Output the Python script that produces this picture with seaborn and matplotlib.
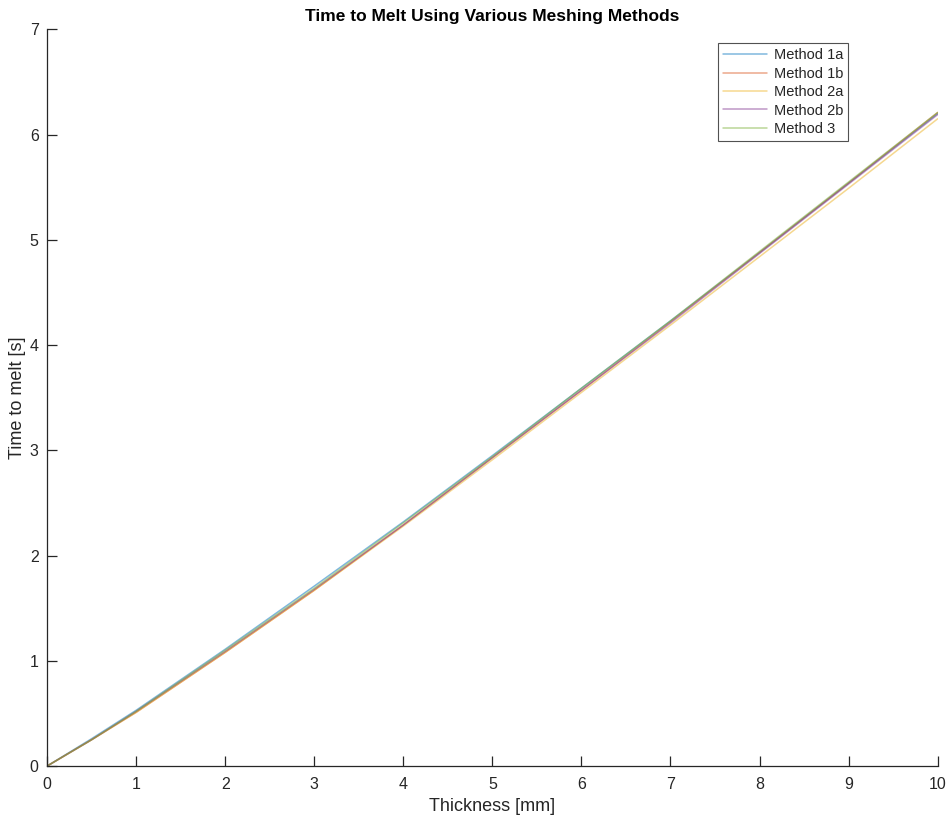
import matplotlib
matplotlib.use("Agg")
import matplotlib.pyplot as plt
import seaborn as sns
import pandas as pd

thickness = [0, 0.5, 1, 2, 3, 4, 5, 6, 7, 8, 9, 10]
method_1a = [0, 0.26, 0.53, 1.11, 1.71, 2.32, 2.95, 3.59, 4.23, 4.88, 5.54, 6.20]
method_1b = [0, 0.25, 0.51, 1.08, 1.67, 2.29, 2.93, 3.57, 4.22, 4.88, 5.54, 6.21]
method_2a = [0, 0.25, 0.51, 1.08, 1.67, 2.28, 2.91, 3.55, 4.19, 4.84, 5.49, 6.15]
method_2b = [0, 0.25, 0.52, 1.09, 1.68, 2.29, 2.93, 3.57, 4.21, 4.87, 5.53, 6.19]
method_3 = [0, 0.25, 0.52, 1.10, 1.69, 2.31, 2.94, 3.59, 4.23, 4.89, 5.55, 6.21]

names = ["Method 1a", "Method 1b", "Method 2a", "Method 2b", "Method 3"]
series = [method_1a, method_1b, method_2a, method_2b, method_3]
colors = ["#0072BD", "#D95319", "#EDB120", "#7E2F8E", "#77AC30"]

rows = []
for n, s in zip(names, series):
    for x, y in zip(thickness, s):
        rows.append({"Thickness": x, "Time": y, "Method": n})
df = pd.DataFrame(rows)

sns.set_style("white")
plt.rcParams["font.family"] = ["Liberation Sans", "DejaVu Sans"]

fig = plt.figure(figsize=(9.5, 8.15), dpi=100)
ax = fig.add_axes([0.0495, 0.060, 0.9375, 0.904])

sns.lineplot(data=df, x="Thickness", y="Time", hue="Method", hue_order=names,
             palette=dict(zip(names, colors)), linewidth=1.1, alpha=0.5, ax=ax)

ax.set_xlim(0, 10)
ax.set_ylim(0, 7)
ax.set_xticks(range(0, 11))
ax.set_yticks(range(0, 8))
for sp in ["top", "right"]:
    ax.spines[sp].set_visible(False)
for sp in ["left", "bottom"]:
    ax.spines[sp].set_color("#262626")
    ax.spines[sp].set_linewidth(0.9)
ax.tick_params(bottom=True, left=True, top=False, right=False)
ax.tick_params(direction="in", length=7, width=0.9, colors="#262626",
               labelsize=11.5, labelcolor="#262626")
ax.tick_params(axis="x", pad=8)
ax.tick_params(axis="y", pad=6)
ax.set_xlabel("Thickness [mm]", fontsize=13, color="#262626", labelpad=4)
ax.set_ylabel("Time to melt [s]", fontsize=13, color="#262626", labelpad=3)
ax.set_title("Time to Melt Using Various Meshing Methods", fontsize=12.5,
             fontweight="bold", color="black", pad=6)

leg = ax.legend(loc="upper left", bbox_to_anchor=(0.753, 0.981), frameon=True,
                fontsize=10.5, handlelength=3.0, borderpad=0.35, labelspacing=0.3,
                handletextpad=0.5, borderaxespad=0, fancybox=False, title=None)
leg.get_frame().set_edgecolor("#262626")
leg.get_frame().set_linewidth(0.8)
for h in leg.get_lines():
    h.set_alpha(0.5)
    h.set_linewidth(1.1)

fig.savefig("out.png", dpi=100)
